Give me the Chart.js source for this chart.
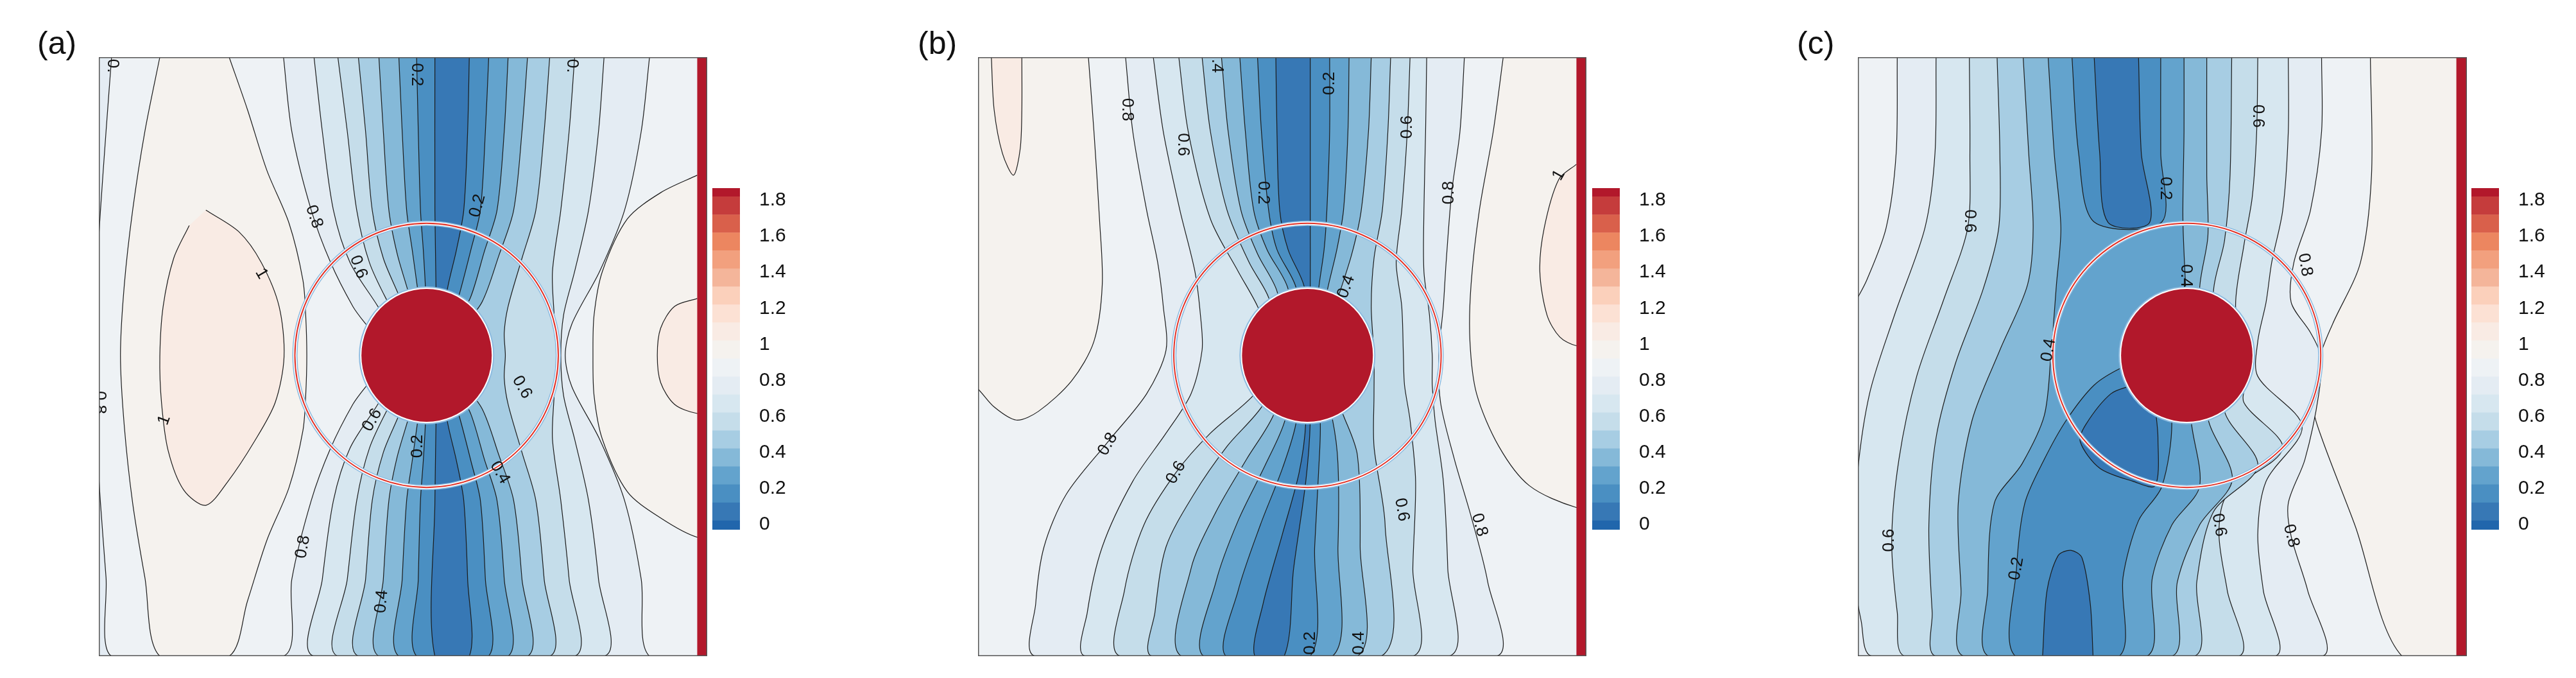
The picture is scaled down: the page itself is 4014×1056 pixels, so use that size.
<!DOCTYPE html>
<html><head><meta charset="utf-8">
<script src="https://cdn.jsdelivr.net/npm/chart.js@4.4.1/dist/chart.umd.min.js"></script>
<style>
body{margin:0;background:#fff;width:4014px;height:1056px;position:relative;overflow:hidden;font-family:"Liberation Sans",Arial,sans-serif}
canvas{position:absolute}
.lab{position:absolute;font-size:50px;color:#111;font-family:"Liberation Sans",Arial,sans-serif}
</style></head><body>
<div class="lab" style="left:58px;top:38px">(a)</div>
<div class="lab" style="left:1430px;top:38px">(b)</div>
<div class="lab" style="left:2800px;top:38px">(c)</div>
<canvas id="pa" width="948" height="933" style="left:154px;top:89px"></canvas>
<canvas id="pb" width="948" height="933" style="left:1524px;top:89px"></canvas>
<canvas id="pc" width="949" height="933" style="left:2895px;top:89px"></canvas>
<canvas id="ca" width="133" height="612" style="left:1110px;top:253px"></canvas>
<canvas id="cb" width="133" height="612" style="left:2481px;top:253px"></canvas>
<canvas id="cc" width="133" height="612" style="left:3851px;top:253px"></canvas>
<script>
// ---- colour levels (band k, bottom to top) ----
const palette = ['#2166ac','#3778b5','#4a8fc2','#63a3cd','#85b9d8','#a7cde3','#c5ddea','#d7e7f0','#e4ecf3','#eef2f5','#f5f2ee','#f9ebe4','#fce1d4','#fbd0bb','#f4b59a','#f2a07e','#ec8660','#d9604b','#c53c3c','#b2182b'];
const cbEdges = [-0.08,0.02,0.12,0.22,0.32,0.42,0.52,0.62,0.72,0.82,0.92,1.02,1.12,1.22,1.32,1.42,1.52,1.62,1.72,1.82,1.92];
const cbTicks = [0,0.2,0.4,0.6,0.8,1,1.2,1.4,1.6,1.8];

// ---- panel (a) contour lines ----
const a_b9L=[[210,130],[200,300],[190,480],[182,650],[178,812],[182,975],[190,1150],[200,1320],[210,1500]];
const a_b10L=[[297,130],[270,300],[248,480],[233,650],[226,812],[233,975],[248,1150],[270,1320],[297,1500]];
const a_b11L=[[380,480],[440,530],[480,600],[512,700],[521,815],[505,920],[467,1010],[420,1100],[380,1155],[340,1120],[312,1030],[300,920],[297,815],[303,700],[322,590],[350,515]];
const a_b10M=[[422,130],[455,250],[490,389],[530,510],[555,640],[560,720],[562,812],[560,904],[555,984],[530,1114],[490,1235],[455,1374],[422,1500]];
const a_b9M=[[520,130],[535,300],[570,480],[605,600],[645,700],[700,812],[645,924],[605,1024],[570,1144],[535,1324],[520,1500]];
const a_b8L=[[575,130],[590,300],[610,480],[640,600],[690,700],[740,812],[690,924],[640,1024],[610,1144],[590,1324],[575,1500]];
const a_b7L=[[618,130],[635,300],[652,480],[675,600],[710,695],[760,812],[710,929],[675,1024],[652,1144],[635,1324],[618,1500]];
const a_b6L=[[655,130],[668,300],[680,480],[700,590],[728,675],[770,812],[728,949],[700,1034],[680,1144],[668,1324],[655,1500]];
const a_b5L=[[692,130],[700,300],[710,480],[725,580],[745,667],[775,812],[745,957],[725,1044],[710,1144],[700,1324],[692,1500]];
const a_b4L=[[728,130],[734,300],[742,480],[752,570],[762,662],[778,812],[762,962],[752,1054],[742,1144],[734,1324],[728,1500]];
const a_b3L=[[760,130],[763,300],[767,480],[772,570],[776,660],[780,812],[776,964],[772,1054],[767,1144],[763,1324],[760,1500]];
const a_b2L=[[793,130],[793,480],[795,660],[795,812],[795,964],[793,1144],[793,1500]];
const a_b2R=[[855,130],[852,300],[845,480],[832,570],[815,664],[800,812],[815,960],[832,1054],[845,1144],[852,1324],[855,1500]];
const a_b3R=[[890,130],[884,300],[875,480],[858,570],[838,668],[805,812],[838,956],[858,1054],[875,1144],[884,1324],[890,1500]];
const a_b4R=[[925,130],[918,300],[905,480],[882,575],[858,677],[810,812],[858,947],[882,1049],[905,1144],[918,1324],[925,1500]];
const a_b5R=[[960,130],[950,300],[935,480],[908,585],[878,690],[815,812],[878,934],[908,1039],[935,1144],[950,1324],[960,1500]];
const a_b6R=[[1000,130],[990,300],[975,480],[950,590],[925,700],[918,760],[920,812],[918,864],[925,924],[950,1034],[975,1144],[990,1324],[1000,1500]];
const a_b7R=[[1045,130],[1035,300],[1020,480],[1005,620],[1008,720],[1012,812],[1008,904],[1005,1004],[1020,1144],[1035,1324],[1045,1500]];
const a_b8R=[[1098,130],[1088,300],[1070,480],[1045,620],[1025,720],[1020,812],[1025,904],[1045,1004],[1070,1144],[1088,1324],[1098,1500]];
const a_b9R=[[1180,130],[1165,300],[1135,480],[1090,620],[1040,740],[1028,812],[1040,884],[1090,1004],[1135,1144],[1165,1324],[1180,1500]];
const a_b10R=[[1266,400],[1200,440],[1140,500],[1095,620],[1080,720],[1078,812],[1080,904],[1095,1004],[1140,1124],[1200,1184],[1266,1228]];
const a_b11R=[[1266,682],[1225,700],[1200,750],[1194,812],[1200,874],[1225,924],[1266,945]];
const a_labels=[['0.',212,150,90],['0.',1040,150,90],['0.8',188,920,90],['0.2',760,170,90],['0.2',870,470,-75],['0.8',575,495,70],['1',480,625,60],['0.6',655,610,70],['0.6',950,885,60],['1',305,960,-70],['0.6',680,960,-60],['0.2',762,1020,-90],['0.4',910,1080,60],['0.8',555,1250,-80],['0.4',697,1375,-85]];

// ---- panel (b) contour lines ----
const b_b11L=[[245,130],[250,250],[265,350],[285,400],[297,340],[300,250],[300,130]];
const b_b10L=[[420,130],[430,300],[440,500],[445,650],[430,780],[390,870],[330,940],[290,960],[250,930],[213,880]];
const b_b9L=[[487,130],[500,300],[525,480],[545,600],[555,700],[560,800],[525,900],[455,1010],[380,1130],[340,1250],[325,1380],[325,1500]];
const b_b8L=[[537,130],[555,300],[585,480],[612,620],[622,720],[625,800],[605,900],[560,990],[500,1100],[445,1250],[418,1400],[415,1500]];
const b_b7L=[[583,130],[600,300],[640,500],[690,620],[725,700],[760,812],[720,900],[640,990],[578,1080],[520,1200],[485,1350],[478,1500]];
const b_b6L=[[625,130],[640,300],[670,480],[710,600],[745,680],[770,812],[735,925],[670,1020],[610,1130],[560,1250],[540,1400],[535,1500]];
const b_b5L=[[660,130],[672,300],[695,480],[725,580],[760,665],[780,812],[755,945],[705,1050],[650,1170],[605,1300],[588,1500]];
const b_b4L=[[693,130],[703,300],[718,480],[742,570],[780,660],[790,812],[775,958],[740,1060],[690,1190],[650,1330],[628,1500]];
const b_b3L=[[725,130],[732,300],[745,480],[760,570],[795,660],[800,812],[795,962],[770,1070],[730,1200],[690,1350],[668,1500]];
const b_b2L=[[758,130],[760,300],[765,480],[780,570],[810,660],[810,812],[812,964],[800,1080],[770,1220],[735,1380],[720,1500]];
const b_b2R=[[820,130],[820,500],[820,660],[818,812],[820,964],[812,1100],[790,1300],[773,1500]];
const b_b3R=[[855,130],[855,300],[850,480],[845,570],[835,662],[825,812],[838,962],[835,1080],[828,1250],[820,1500]];
const b_b4R=[[890,130],[888,300],[880,480],[868,570],[850,668],[830,812],[860,958],[870,1060],[870,1250],[860,1500]];
const b_b5R=[[930,130],[925,300],[912,480],[895,580],[870,680],[835,812],[880,950],[905,1040],[910,1250],[905,1500]];
const b_b6R=[[965,130],[960,300],[950,480],[935,590],[930,700],[935,812],[935,900],[935,1020],[955,1200],[948,1500]];
const b_b7R=[[1000,130],[995,300],[985,480],[975,600],[985,700],[988,812],[990,880],[1000,960],[1010,1100],[1005,1300],[1005,1500]];
const b_b8R=[[1030,130],[1028,300],[1025,480],[1025,620],[1035,720],[1040,812],[1040,880],[1045,960],[1060,1100],[1068,1300],[1070,1500]];
const b_b9R=[[1098,130],[1090,300],[1075,440],[1065,600],[1060,700],[1052,812],[1055,920],[1080,1050],[1110,1180],[1140,1330],[1155,1500]];
const b_b10R=[[1168,130],[1150,300],[1125,480],[1110,650],[1108,780],[1120,900],[1160,1020],[1215,1110],[1300,1160]];
const b_b11R=[[1300,375],[1268,410],[1242,520],[1234,620],[1247,720],[1270,770],[1300,790]];
const b_labels=[['0.8',490,250,90],['0.6',590,330,90],['.4',652,150,90],['0.2',735,440,90],['0.2',855,190,-90],['0.6',995,290,-90],['0.8',1070,440,-90],['1',1268,400,-60],['0.4',885,655,-70],['0.8',455,1015,-60],['0.6',578,1080,-60],['0.6',985,1165,80],['0.8',1125,1200,75],['0.2',820,1470,-90],['0.4',908,1470,-90]];

// ---- panel (c) regions ----
const c_b9L=[[335,130],[333,350],[315,520],[280,640],[256,700],[240,760],[240,1500]];
const c_b9R=[[1100,130],[1100,300],[1080,480],[1050,600],[1045,690],[1080,760],[1098,812],[1095,900],[1070,1050],[1040,1150],[1045,1225],[1075,1350],[1100,1500]];
const c_b10R=[[1188,130],[1190,400],[1170,600],[1120,740],[1098,812],[1085,930],[1100,1000],[1160,1200],[1245,1500],[1380,1500],[1380,130]];
const c_b8L=[[405,130],[403,350],[385,520],[330,720],[285,900],[262,1100],[257,1300],[270,1420],[290,1500]];
const c_b8R=[[1040,130],[1040,300],[1030,480],[1010,600],[1000,690],[985,780],[985,860],[1065,975],[1000,1100],[985,1220],[995,1350],[1015,1500]];
const c_b7L=[[465,130],[466,350],[462,520],[420,680],[370,860],[338,1050],[325,1235],[335,1400],[350,1500]];
const c_b7R=[[985,130],[983,300],[975,450],[960,560],[945,700],[965,860],[960,920],[1030,1025],[930,1130],[915,1220],[930,1350],[950,1500]];
const c_b6L=[[515,130],[520,350],[518,520],[490,660],[440,830],[405,1000],[392,1200],[398,1400],[405,1500]];
const c_b6R=[[938,130],[935,400],[925,550],[905,670],[925,940],[985,1065],[905,1170],[875,1330],[870,1500]];
const c_b5L=[[562,130],[572,350],[580,520],[570,650],[520,800],[470,960],[445,1150],[450,1350],[455,1500]];
const c_b5R=[[893,130],[893,400],[895,540],[880,665],[895,955],[939,1096],[880,1200],[840,1330],[830,1500]];
const c_b4L=[[607,130],[618,350],[630,520],[622,650],[612,812],[600,950],[560,1060],[510,1150],[498,1350],[500,1500]];
const c_b4R=[[852,130],[852,300],[850,500],[855,660],[865,962],[880,1112],[830,1200],[795,1320],[785,1500]];
const c_p2top=[[650,130],[662,350],[690,507],[812,507],[810,350],[810,130]];
const c_p2bot=[[770,830],[740,840],[690,880],[640,960],[600,1050],[565,1150],[550,1300],[548,1500],[735,1500],[742,1320],[770,1190],[812,1112],[830,962],[810,880]];
const c_p1top=[[690,130],[700,350],[715,508],[790,508],[775,350],[770,130]];
const c_p1in=[[760,880],[720,900],[675,970],[665,1010],[700,1070],[760,1100],[800,1110],[805,1000],[800,930]];
const c_p1lobe=[[597,1500],[605,1350],[625,1270],[648,1258],[668,1275],[683,1380],[688,1500]];
const c_labels=[['0.6',985,265,90],['0.2',818,430,90],['0.6',465,505,90],['0.8',1070,605,80],['0.4',855,630,90],['0.4',608,800,-80],['0.6',320,1235,-90],['0.2',550,1300,-80],['0.6',915,1200,80],['0.8',1045,1225,75]];

const rev = a => a.slice().reverse();
const edgeR = (line, x) => line.concat([[x, line[line.length-1][1]], [x, line[0][1]]]);

const panels = [
 {id:'pa', xmin:187, xmax:1284, strip:1266, disk:[778,812,117.5,152], ring:[778,812,237.5,302], bg:8, labels:a_labels,
  regions:[[9,a_b9L.concat(rev(a_b9M))],[9,edgeR(a_b9R,1320)],[10,a_b10L.concat(rev(a_b10M))],[10,edgeR(a_b10R,1320)],[11,a_b11L],[11,edgeR(a_b11R,1320)],
   [7,a_b8L.concat(rev(a_b8R))],[6,a_b7L.concat(rev(a_b7R))],[5,a_b6L.concat(rev(a_b6R))],[4,a_b5L.concat(rev(a_b5R))],[3,a_b4L.concat(rev(a_b4R))],[2,a_b3L.concat(rev(a_b3R))],[1,a_b2L.concat(rev(a_b2R))]]},
 {id:'pb', xmin:221, xmax:1318, strip:1300, disk:[815,812,118,152], ring:[815,812,241,302], bg:9, labels:b_labels,
  regions:[[10,b_b10L.concat([[190,880],[190,130]])],[10,edgeR(b_b10R,1350)],[11,b_b11L],[11,edgeR(b_b11R,1350)],
   [8,b_b9L.concat(rev(b_b9R))],[7,b_b8L.concat(rev(b_b8R))],[6,b_b7L.concat(rev(b_b7R))],[5,b_b6L.concat(rev(b_b6R))],[4,b_b5L.concat(rev(b_b5R))],[3,b_b4L.concat(rev(b_b4R))],[2,b_b3L.concat(rev(b_b3R))],[1,b_b2L.concat(rev(b_b2R))]]},
 {id:'pc', xmin:264, xmax:1362, strip:1343, disk:[857,812,118.5,152], ring:[857,812,241.5,302], bg:9, labels:c_labels,
  regions:[[10,c_b10R],[8,c_b9L.concat(rev(c_b9R))],[7,c_b8L.concat(rev(c_b8R))],[6,c_b7L.concat(rev(c_b7R))],[5,c_b6L.concat(rev(c_b6R))],[4,c_b5L.concat(rev(c_b5R))],[3,c_b4L.concat(rev(c_b4R))],[2,c_p2top],[2,c_p2bot],[1,c_p1top],[1,c_p1in],[1,c_p1lobe]]}
];

const decor = {
 id:'decor',
 beforeDatasetsDraw(chart, args, o){
   const {ctx, chartArea:a} = chart; ctx.save(); ctx.fillStyle = palette[o.bg]; ctx.fillRect(a.left,a.top,a.right-a.left,a.bottom-a.top); ctx.restore();
 },
 afterDatasetsDraw(chart, args, o){
   const {ctx, chartArea:a} = chart; const xs = chart.scales.x, ys = chart.scales.y;
   ctx.save();
   ctx.beginPath(); ctx.rect(a.left,a.top,a.right-a.left,a.bottom-a.top); ctx.clip();
   const ell = (c) => { const cx=xs.getPixelForValue(c[0]), cy=ys.getPixelForValue(c[1]);
     const rx=Math.abs(xs.getPixelForValue(c[0]+c[2])-cx), ry=Math.abs(ys.getPixelForValue(c[1]+c[3])-cy);
     ctx.beginPath(); ctx.ellipse(cx,cy,rx,ry,0,0,Math.PI*2); };
   ell(o.ring); ctx.strokeStyle='#8dbbe0'; ctx.lineWidth=8; ctx.stroke();
   ctx.strokeStyle='#ffffff'; ctx.lineWidth=5; ctx.stroke();
   ctx.strokeStyle='#e03228'; ctx.lineWidth=2; ctx.stroke();
   ell(o.disk); ctx.strokeStyle='#8dbbe0'; ctx.lineWidth=8; ctx.stroke();
   ctx.strokeStyle='#ffffff'; ctx.lineWidth=4; ctx.stroke();
   ctx.fillStyle='#b2182b'; ctx.fill();
   ctx.font='26px "Liberation Sans", Arial, sans-serif'; ctx.fillStyle='#111'; ctx.textAlign='center'; ctx.textBaseline='middle';
   for (const [t,x,y,ang] of o.labels){ ctx.save(); ctx.translate(xs.getPixelForValue(x), ys.getPixelForValue(y)); ctx.rotate(ang*Math.PI/180); ctx.fillText(t,0,0); ctx.restore(); }
   ctx.restore();
   ctx.save(); ctx.strokeStyle='#555'; ctx.lineWidth=1.5; ctx.strokeRect(a.left+0.75,a.top+0.75,a.right-a.left-1.5,a.bottom-a.top-1.5); ctx.restore();
 }
};

for (const p of panels){
  const ds = p.regions.map(([lvl, pts]) => ({
    data: pts.map(q=>({x:q[0],y:q[1]})), showLine:true, fill:'shape', backgroundColor:palette[lvl],
    borderColor:'#1b1b1b', borderWidth:1.2, pointRadius:0, tension:0.3
  }));
  ds.push({data:[{x:p.strip,y:100},{x:p.xmax+20,y:100},{x:p.xmax+20,y:1530},{x:p.strip,y:1530}], showLine:true, fill:'shape',
    backgroundColor:'#b2182b', borderWidth:0, pointRadius:0, tension:0});
  ds.forEach((d,i)=> d.order = ds.length - i);
  new Chart(document.getElementById(p.id), {
    type:'scatter', data:{datasets:ds},
    options:{responsive:false, animation:false, devicePixelRatio:1, layout:{padding:0},
      scales:{x:{type:'linear', min:p.xmin, max:p.xmax, display:false}, y:{type:'linear', min:130, max:1500, reverse:true, display:false}},
      plugins:{legend:{display:false}, tooltip:{enabled:false}, decor:{bg:p.bg, disk:p.disk, ring:p.ring, labels:p.labels}}},
    plugins:[decor]
  });
}

for (const id of ['ca','cb','cc']){
  const ds = palette.map((c,i)=>({data:[[cbEdges[i],cbEdges[i+1]]], backgroundColor:c, borderWidth:0, barPercentage:1, categoryPercentage:1, grouped:false}));
  new Chart(document.getElementById(id), {
    type:'bar', data:{labels:[''], datasets:ds},
    options:{responsive:false, animation:false, devicePixelRatio:1, layout:{padding:{top:20,bottom:20,left:0,right:0}},
      scales:{x:{display:false},
        y:{position:'right', min:-0.03, max:1.868, grid:{display:false}, border:{display:false},
           afterFit(s){s.width=90;},
           afterBuildTicks(s){ s.ticks = cbTicks.map(v=>({value:v})); },
           ticks:{padding:22, color:'#111', font:{size:30, family:'"Liberation Sans", Arial'}, callback:v=>String(Number(v.toFixed(1)))}}},
      plugins:{legend:{display:false}, tooltip:{enabled:false}}}
  });
}
</script></body></html>
